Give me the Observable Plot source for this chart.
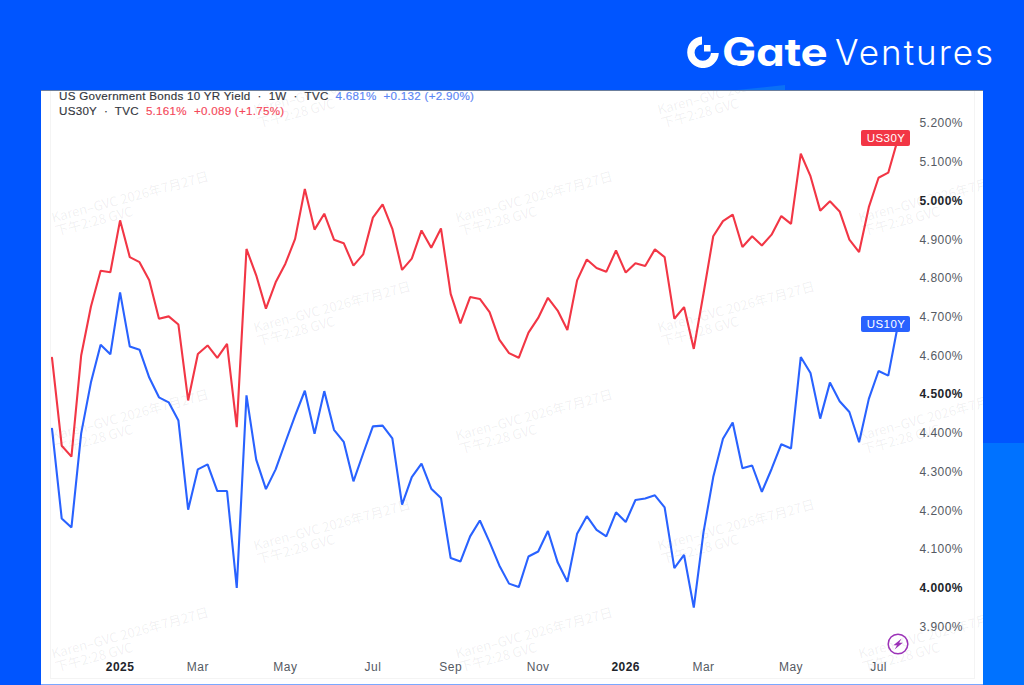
<!DOCTYPE html>
<html>
<head>
<meta charset="utf-8">
<script src="https://cdn.jsdelivr.net/npm/d3@7"></script>
<script src="https://cdn.jsdelivr.net/npm/@observablehq/plot@0.6"></script>
<style>
html,body{margin:0;padding:0;width:1024px;height:685px;overflow:hidden;background:#0055ff;font-family:"Liberation Sans",Arial,sans-serif}
#lower{position:absolute;left:983px;top:443px;width:41px;height:242px;background:#0072ff}
#glow{position:absolute;left:737px;top:85px;width:48px;height:5px;background:#0a70f5;clip-path:polygon(0 100%,100% 0,100% 100%)}
#card{position:absolute;left:41px;top:90px;width:942px;height:595px;background:#fff;overflow:hidden;border-top:1px solid #6c7f9c;box-sizing:border-box}
#card svg.plot{position:absolute;left:0;top:-1px}
#inner{position:absolute;left:9px;top:-1px;width:925px;height:589px;border-left:1px solid #f4f4f4;border-right:1px solid #f4f4f4;border-bottom:1px solid #f4f4f4;box-sizing:border-box}
#baseline{position:absolute;left:0;bottom:0;width:100%;height:1px;background:#7aa8ff}
.wm{position:absolute;font:13.2px/14px "Noto Sans CJK SC","Liberation Sans",sans-serif;color:rgba(60,60,70,.075);white-space:nowrap;transform-origin:0 0;transform:rotate(-15deg)}
.wm span{display:block}
.leg{position:absolute;left:18px;font-size:11.6px;letter-spacing:.28px;color:#33363d;white-space:pre;-webkit-text-stroke:.15px currentColor}
.leg b{font-weight:400}
#logo{position:absolute;left:687px;top:36px;width:32px;height:32px}
#gate{position:absolute;left:722px;top:27px;font:700 39px/50px Inter,"Liberation Sans",sans-serif;font-feature-settings:"cv11" 1;color:#fff;letter-spacing:-.2px;transform-origin:0 50%;transform:scaleX(1.17)}
#ventures{position:absolute;left:835px;top:27px;font:300 35px/50px Inter,"Liberation Sans",sans-serif;color:#fff;letter-spacing:2px}
#bolt{position:absolute;left:846px;top:542px;width:22px;height:22px}
</style>
</head>
<body>
<div id="lower"></div>
<div id="glow"></div>
<svg id="logo" viewBox="0 0 32 32">
  <path d="M15 0.5 A15.8 15.8 0 1 0 31.8 17 L24 17 A8.2 8.2 0 1 1 15 8.4 Z" fill="#fff"/>
  <rect x="17" y="9" width="6.5" height="6.5" fill="#fff"/>
</svg>
<div id="gate">Gate</div>
<div id="ventures">Ventures</div>
<div id="card">
  <div id="inner"></div>
  <div id="wms"></div>
  <div id="chart"></div>
  <div class="leg" style="top:-2px">US Government Bonds 10 YR Yield  ·  1W  ·  TVC  <b style="color:#5b86f5">4.681%  +0.132 (+2.90%)</b></div>
  <div class="leg" style="top:13px">US30Y  ·  TVC  <b style="color:#f5485a">5.161%  +0.089 (+1.75%)</b></div>
  <svg id="bolt" viewBox="0 0 22 22">
    <circle cx="11" cy="11" r="9.8" fill="none" stroke="#9c33b8" stroke-width="1.5"/>
    <path d="M14.6 5.6 L6.4 12.2 L10 12.2 L7.6 16.4 L15.8 9.8 L12.2 9.8 Z" fill="#9c33b8"/>
  </svg>
  <div id="baseline"></div>
</div>
<script>
const firstWeek = "2024-11-18";
const us10y = [4.412,4.180,4.157,4.400,4.531,4.629,4.604,4.764,4.624,4.616,4.544,4.493,4.480,4.433,4.203,4.307,4.320,4.251,4.251,4.001,4.498,4.332,4.256,4.307,4.377,4.446,4.510,4.399,4.509,4.409,4.378,4.276,4.348,4.418,4.420,4.387,4.216,4.287,4.322,4.257,4.233,4.078,4.069,4.134,4.175,4.119,4.059,4.012,4.003,4.082,4.095,4.148,4.067,4.017,4.141,4.186,4.151,4.134,4.196,4.171,4.228,4.232,4.240,4.209,4.052,4.086,3.950,4.145,4.287,4.386,4.428,4.310,4.317,4.249,4.308,4.372,4.361,4.597,4.556,4.438,4.531,4.483,4.455,4.377,4.489,4.561,4.549,4.681];
const us30y = [4.595,4.368,4.340,4.601,4.727,4.820,4.816,4.950,4.855,4.842,4.795,4.696,4.702,4.681,4.485,4.605,4.627,4.595,4.631,4.416,4.876,4.808,4.722,4.790,4.838,4.902,5.031,4.926,4.967,4.900,4.891,4.833,4.862,4.957,4.991,4.928,4.822,4.851,4.924,4.879,4.929,4.760,4.684,4.752,4.747,4.713,4.642,4.607,4.595,4.660,4.698,4.750,4.717,4.667,4.795,4.849,4.827,4.817,4.872,4.815,4.839,4.832,4.875,4.855,4.696,4.726,4.618,4.761,4.909,4.948,4.965,4.881,4.909,4.885,4.913,4.961,4.941,5.122,5.064,4.975,4.999,4.973,4.900,4.868,4.984,5.060,5.073,5.161];
const yTicks = [5.2,5.1,4.9,4.8,4.7,4.6,4.4,4.3,4.2,4.1,3.9];
const yTicksBold = [5.0,4.5,4.0];
const monthTicks = [["2025-03-03","Mar"],["2025-05-05","May"],["2025-07-07","Jul"],["2025-09-01","Sep"],["2025-11-03","Nov"],["2026-03-02","Mar"],["2026-05-04","May"],["2026-07-06","Jul"]];
const yearTicks = [["2025-01-06","2025"],["2026-01-05","2026"]];
const tagNames = ["US10Y","US30Y"];
const red = "#f23645", blue = "#2962ff";

const start = new Date(firstWeek + "T00:00:00Z");
const week = i => d3.utcDay.offset(start, 7 * i);
const s10 = us10y.map((v, i) => ({date: week(i), v}));
const s30 = us30y.map((v, i) => ({date: week(i), v}));
const tags = [
  {name: tagNames[0], date: week(87), v: us10y[87], c: blue},
  {name: tagNames[1], date: week(87), v: us30y[87], c: red}
];
const labelOf = pairs => { const m = new Map(pairs.map(([d, l]) => [+new Date(d + "T00:00:00Z"), l])); return d => m.get(+d); };
const datesOf = pairs => pairs.map(([d]) => new Date(d + "T00:00:00Z"));
const pct = d => d.toFixed(3) + "%";

const plot = Plot.plot({
  width: 942, height: 595,
  marginLeft: 0, marginTop: 0, marginRight: 64, marginBottom: 24,
  style: {fontFamily: '"Liberation Sans",Arial,sans-serif', fontSize: "12px", background: "transparent", letterSpacing: ".45px"},
  x: {type: "utc", domain: [start, week(87)], range: [10.5, 856.5]},
  y: {domain: [3.9, 5.2], range: [535.5, 32]},
  marks: [
    Plot.line(s30, {x: "date", y: "v", stroke: red, strokeWidth: 2.1, strokeLinejoin: "miter"}),
    Plot.line(s10, {x: "date", y: "v", stroke: blue, strokeWidth: 2.1, strokeLinejoin: "miter"}),
    Plot.axisY(yTicks, {anchor: "right", label: null, tickSize: 0, tickPadding: 0, tickFormat: pct, fill: "#555a63", fontWeight: 500}),
    Plot.axisY(yTicksBold, {anchor: "right", label: null, tickSize: 0, tickPadding: 0, tickFormat: pct, fill: "#22252b", fontWeight: 700}),
    Plot.axisX(datesOf(monthTicks), {anchor: "bottom", label: null, tickSize: 0, tickPadding: 0, tickFormat: labelOf(monthTicks), fill: "#555a63"}),
    Plot.axisX(datesOf(yearTicks), {anchor: "bottom", label: null, tickSize: 0, tickPadding: 0, tickFormat: labelOf(yearTicks), fill: "#22252b", fontWeight: 700}),
    Plot.rect(tags, {x1: "date", x2: "date", y1: "v", y2: "v", fill: "c", rx: 2, insetLeft: -36.5, insetRight: -12.5, insetTop: -8, insetBottom: -8}),
    Plot.text(tags, {x: "date", y: "v", text: "name", fill: "#fff", dx: -12, fontSize: 11.5})
  ]
});
document.getElementById("chart").append(plot);

const wmHost = document.getElementById("wms");
const wmColumns = [[9, [134, 352, 570]], [211, [26, 244, 462]], [413, [134, 352, 570]], [615, [26, 244, 462]], [816, [134, 352, 570]]];
for (const [x, ys] of wmColumns) for (const y of ys) {
  const el = document.createElement("div");
  el.className = "wm";
  el.style.left = x + "px"; el.style.top = (y - 14) + "px";
  el.innerHTML = "Karen–GVC 2026年7月27日<span>下午2:28 GVC</span>";
  wmHost.append(el);
}
</script>
</body>
</html>
